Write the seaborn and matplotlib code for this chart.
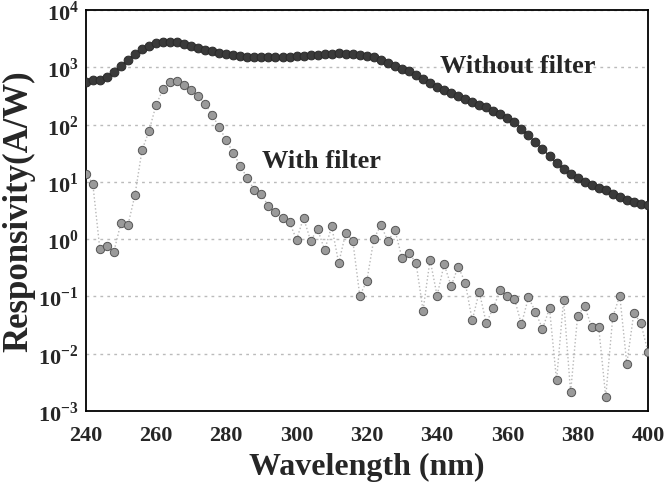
import numpy as np
import pandas as pd
import seaborn as sns
import matplotlib.pyplot as plt
from matplotlib import ticker

# wavelength grid (nm), one point every 2 nm
wavelength = list(range(240, 402, 2))

# log10 of responsivity (A/W)
without_filter_log = [
    2.75, 2.78, 2.78, 2.83, 2.92, 3.02, 3.13, 3.24, 3.32, 3.38,
    3.42, 3.445, 3.45, 3.44, 3.41, 3.38, 3.345, 3.31, 3.28, 3.255,
    3.23, 3.21, 3.20, 3.19, 3.185, 3.18, 3.18, 3.18, 3.185, 3.19,
    3.195, 3.20, 3.21, 3.22, 3.23, 3.24, 3.245, 3.24, 3.23, 3.22,
    3.20, 3.18, 3.13, 3.07, 3.03, 2.98, 2.93, 2.86, 2.80, 2.72,
    2.66, 2.61, 2.56, 2.50, 2.45, 2.40, 2.35, 2.30, 2.24, 2.18,
    2.11, 2.04, 1.93, 1.81, 1.69, 1.57, 1.45, 1.33, 1.22, 1.13,
    1.06, 1.00, 0.95, 0.90, 0.85, 0.79, 0.74, 0.69, 0.645, 0.61,
    0.60,
]
with_filter_log = [
    1.14, 0.97, -0.17, -0.12, -0.22, 0.28, 0.24, 0.77, 1.55, 1.89,
    2.34, 2.62, 2.75, 2.77, 2.69, 2.61, 2.50, 2.36, 2.17, 1.95,
    1.73, 1.50, 1.28, 1.06, 0.86, 0.79, 0.57, 0.47, 0.37, 0.29,
    -0.01, 0.37, -0.03, 0.17, -0.19, 0.22, -0.42, 0.11, -0.03, -0.99,
    -0.73, 0.00, 0.25, -0.04, 0.16, -0.33, -0.25, -0.41, -1.25, -0.36,
    -0.99, -0.44, -0.82, -0.48, -0.76, -1.42, -0.92, -1.47, -1.20, -0.89,
    -0.99, -1.04, -1.49, -1.02, -1.27, -1.57, -1.21, -2.47, -1.06, -2.68,
    -1.34, -1.17, -1.54, -1.54, -2.76, -1.36, -0.99, -2.18, -1.29, -1.47,
    -1.97,
]

df = pd.DataFrame({
    'wavelength': wavelength,
    'without': 10 ** np.array(without_filter_log),
    'with': 10 ** np.array(with_filter_log),
})

sns.set_style("white")
plt.rcParams['font.family'] = ['Liberation Serif', 'DejaVu Serif']
plt.rcParams['font.weight'] = 'bold'
plt.rcParams['mathtext.fontset'] = 'custom'
plt.rcParams['mathtext.rm'] = 'Liberation Serif:bold'
plt.rcParams['mathtext.bf'] = 'Liberation Serif:bold'

fig = plt.figure(figsize=(6.7, 4.85), dpi=100)
ax = fig.add_axes([0.128, 0.151, 0.839, 0.826])

# with filter: grey dots, dotted line
sns.lineplot(data=df, x='wavelength', y='with', ax=ax, color='#b8b8b8',
             linestyle=':', linewidth=1.0, marker='o', markersize=6,
             markerfacecolor='#9a9a9a', markeredgecolor='#555555',
             markeredgewidth=0.7, zorder=3)
# without filter: dark dots
sns.lineplot(data=df, x='wavelength', y='without', ax=ax, color='#333333',
             linewidth=1.0, marker='o', markersize=6.3,
             markerfacecolor='#3a3a3a', markeredgecolor='#2a2a2a',
             markeredgewidth=0.7, zorder=4)

ax.set_yscale('log')
ax.set_xlim(240, 400)
ax.set_ylim(1e-3, 1e4)

ax.xaxis.set_major_locator(ticker.MultipleLocator(20))
ax.xaxis.set_minor_locator(ticker.MultipleLocator(4))
ax.yaxis.set_major_locator(ticker.LogLocator(base=10, numticks=10))
ax.yaxis.set_minor_locator(ticker.LogLocator(base=10, subs=np.arange(2, 10), numticks=10))
ax.yaxis.set_major_formatter(ticker.FuncFormatter(lambda v, p: r'$10^{%d}$' % round(np.log10(v))))
ax.yaxis.set_minor_formatter(ticker.NullFormatter())

ax.tick_params(axis='both', which='major', direction='in', length=9, width=1.2)
ax.tick_params(axis='x', which='major', labelsize=16, pad=10)
ax.tick_params(axis='y', which='major', labelsize=16, pad=5)
ax.tick_params(axis='both', which='minor', direction='in', length=4.5, width=0.8)
for lab in ax.get_xticklabels():
    lab.set_fontweight('bold')

ax.grid(axis='y', which='major', linestyle=(0, (2, 3)), color='#bbbbbb', linewidth=1.0)
ax.grid(axis='x', visible=False)
for s in ax.spines.values():
    s.set_linewidth(1.3)
    s.set_color('black')

ax.set_xlabel('Wavelength (nm)', fontsize=23, fontweight='bold', labelpad=5)
ax.set_ylabel('Responsivity(A/W)', fontsize=25, fontweight='bold', labelpad=2)

ax.text(363, 10 ** 2.92, 'Without filter', fontsize=19, fontweight='bold',
        ha='center', va='baseline', zorder=5)
ax.text(307, 10 ** 1.255, 'With filter', fontsize=19, fontweight='bold',
        ha='center', va='baseline', zorder=5)

fig.savefig('out.png', dpi=100)
